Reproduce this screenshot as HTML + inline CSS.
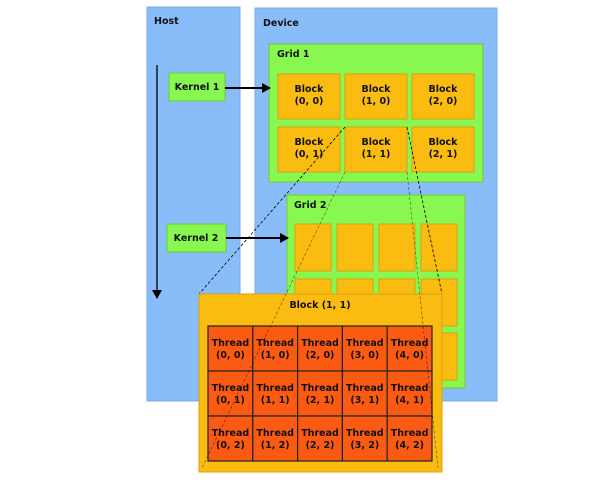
<!DOCTYPE html>
<html><head><meta charset="utf-8"><style>
body{margin:0;background:#fff}
svg text{font-family:"DejaVu Sans","Liberation Sans",sans-serif;font-weight:bold;font-size:9.5px;fill:#111}
</style></head><body>
<svg width="594" height="489" viewBox="0 0 594 489" xmlns="http://www.w3.org/2000/svg">
<defs><marker id="ah" markerUnits="userSpaceOnUse" markerWidth="9" markerHeight="10" refX="8" refY="5" orient="auto"><path d="M0,0L9,5L0,10z" fill="#000"/></marker></defs>
<rect x="147" y="7" width="93" height="394" fill="#88bdfa" stroke="#7aa9e0"/>
<text x="154" y="24">Host</text>
<rect x="255" y="8" width="242" height="393" fill="#88bdfa" stroke="#7aa9e0"/>
<text x="263" y="26">Device</text>
<line x1="157" y1="65" x2="157" y2="298" stroke="#000" stroke-width="1.3" marker-end="url(#ah)"/>
<g>
<rect x="269" y="44" width="214" height="138" fill="#88f850" stroke="#6ccc3a"/>
<text x="277" y="57">Grid 1</text>
<g id="g1"></g>
</g>
<rect x="169" y="73" width="56" height="28" fill="#88f850" stroke="#6ccc3a"/>
<text x="197" y="90" text-anchor="middle">Kernel 1</text>
<line x1="225" y1="88" x2="270" y2="88" stroke="#000" stroke-width="2" marker-end="url(#ah)"/>
<g>
<rect x="287" y="195" width="178" height="193" fill="#88f850" stroke="#6ccc3a"/>
<text x="294" y="208">Grid 2</text>
<g id="g2"></g>
</g>
<rect x="167" y="224" width="59" height="28" fill="#88f850" stroke="#6ccc3a"/>
<text x="196" y="241" text-anchor="middle">Kernel 2</text>
<line x1="226" y1="238" x2="288" y2="238" stroke="#000" stroke-width="2" marker-end="url(#ah)"/>
<g stroke="#000" stroke-width="0.8" stroke-dasharray="3,2">
<line x1="345" y1="127" x2="199" y2="294"/>
<line x1="407" y1="127" x2="442" y2="294"/>
</g>
<g>
<rect x="199" y="294" width="243" height="178" fill="#fbbc12" stroke="#d9a010"/>
<text x="320" y="308" text-anchor="middle">Block (1, 1)</text>
<g id="th"></g>
</g>
<g stroke="#000" stroke-width="0.6" stroke-dasharray="3,2" opacity="0.6">
<line x1="345" y1="172" x2="202" y2="468"/>
<line x1="407" y1="172" x2="438" y2="468"/>
</g>
</svg>
<script>
const NS="http://www.w3.org/2000/svg";
function mk(p,tag,a){const e=document.createElementNS(NS,tag);for(const k in a)e.setAttribute(k,a[k]);p.appendChild(e);return e;}
const g1=document.getElementById('g1');
const bx=[278,345,412],by=[74,127];
by.forEach((y,r)=>bx.forEach((x,c)=>{
 const g=mk(g1,'g',{});
 
 
 mk(g,'rect',{x:x,y:y,width:62,height:45,fill:'#fbbc12',stroke:'#d9a010'});
 mk(g,'text',{x:x+31,y:y+18,'text-anchor':'middle'}).textContent='Block';
 mk(g,'text',{x:x+31,y:y+30,'text-anchor':'middle'}).textContent='('+c+', '+r+')';
}));
const g2=document.getElementById('g2');
[224,279,333].forEach((y,r)=>[295,337,379,421].forEach((x,c)=>{
 const e=mk(g2,'rect',{x:x,y:y,width:36,height:47,fill:'#fbbc12',stroke:'#d9a010'});
 
 
}));
const th=document.getElementById('th');
const w=44.8,h=45;
for(let r=0;r<3;r++)for(let c=0;c<5;c++){
 const x=208+c*w,y=326+r*h;
 const g=mk(th,'g',{});
 
 
 mk(g,'rect',{x:x,y:y,width:w,height:h,fill:'#fb5a12',stroke:'#222','stroke-width':1.2});
 mk(g,'text',{x:x+w/2,y:y+20,'text-anchor':'middle'}).textContent='Thread';
 mk(g,'text',{x:x+w/2,y:y+32,'text-anchor':'middle'}).textContent='('+c+', '+r+')';
}
</script>
</body></html>
